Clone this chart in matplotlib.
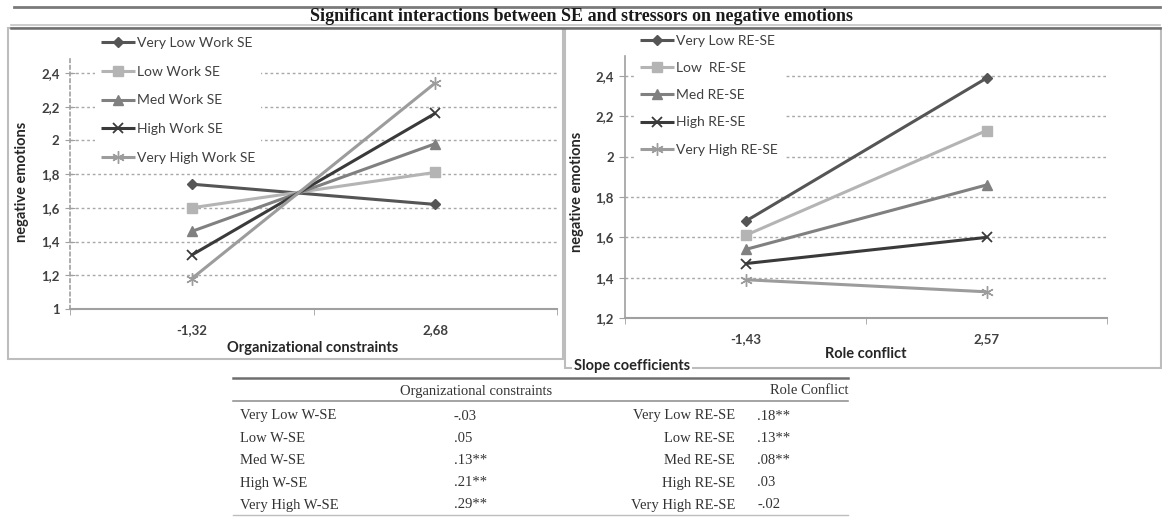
import numpy as np
import matplotlib
matplotlib.use("Agg")
import matplotlib.pyplot as plt
from matplotlib.lines import Line2D
from matplotlib.patches import Rectangle

# ---------------- data ----------------
title_text = "Significant interactions between SE and stressors on negative emotions"

org_x_labels = ["-1,32", "2,68"]
work_labels = ["Very Low Work SE", "Low Work SE", "Med Work SE", "High Work SE", "Very High Work SE"]
org_very_low = [1.74, 1.62]
org_low = [1.60, 1.81]
org_med = [1.46, 1.98]
org_high = [1.32, 2.16]
org_very_high = [1.18, 2.34]

role_x_labels = ["-1,43", "2,57"]
re_labels = ["Very Low RE-SE", "Low  RE-SE", "Med RE-SE", "High RE-SE", "Very High RE-SE"]
role_very_low = [1.68, 2.39]
role_low = [1.61, 2.13]
role_med = [1.54, 1.86]
role_high = [1.47, 1.60]
role_very_high = [1.39, 1.33]

left_yticks = [1.0, 1.2, 1.4, 1.6, 1.8, 2.0, 2.2, 2.4]
right_yticks = [1.2, 1.4, 1.6, 1.8, 2.0, 2.2, 2.4]

table_title = "Slope coefficients"
table_header_org = "Organizational constraints"
table_header_role = "Role Conflict"
slope_rows_work = ["Very Low W-SE", "Low W-SE", "Med W-SE", "High W-SE", "Very High W-SE"]
slope_org = ["-.03", ".05", ".13**", ".21**", ".29**"]
slope_rows_re = ["Very Low RE-SE", "Low RE-SE", "Med RE-SE", "High RE-SE", "Very High RE-SE"]
slope_role = [".18**", ".13**", ".08**", ".03", "-.02"]

# ---------------- styles ----------------
colors = ["#555555", "#b4b4b4", "#808080", "#3a3a3a", "#9c9c9c"]
markers = ["D", "s", "^", "x", (6, 2, 0)]
msizes = [5, 7, 7, 7, 9]
SANS = ["Lato", "DejaVu Sans"]
SERIF = ["Liberation Serif", "DejaVu Serif"]
TXT = "#404040"
GRID = "#a8a8a8"
AXC = "#a0a0a0"

W, H = 1162, 517
fig = plt.figure(figsize=(W / 100, H / 100), dpi=100)


def fx(px):
    return px / W


def fy(py):
    return 1 - py / H


def fmt(v):
    s = f"{v:.1f}"
    if s.endswith(".0"):
        s = s[:-2]
    return s.replace(".", ",")


def make_axes(rect, ylim, yticks, xlabels, dotted_yaxis, ytick_dir, ytick_len):
    ax = fig.add_axes(rect)
    ax.set_xlim(0, 2)
    ax.set_ylim(*ylim)
    for s in ["top", "right"]:
        ax.spines[s].set_visible(False)
    ax.spines["bottom"].set_color(AXC)
    ax.spines["bottom"].set_linewidth(1.5)
    ax.spines["left"].set_color(AXC)
    ax.spines["left"].set_linewidth(1.2)
    if dotted_yaxis:
        ax.spines["left"].set_linestyle((0, (2, 2)))
    ax.set_yticks(yticks)
    ax.set_yticklabels([fmt(v) for v in yticks], fontweight="bold", family=SANS,
                       fontsize=9.5, color=TXT)
    ax.tick_params(axis="y", direction=ytick_dir, length=ytick_len, color=AXC, pad=4)
    ax.set_xticks(np.arange(len(xlabels)) + 0.5)
    ax.set_xticklabels(xlabels, fontweight="bold", family=SANS, fontsize=9.5, color=TXT)
    ax.set_xticks(np.arange(len(xlabels) + 1), minor=True)
    ax.tick_params(axis="x", which="major", length=0, pad=10.5)
    ax.tick_params(axis="x", which="minor", length=4, direction="out", color=AXC)
    ax.yaxis.grid(True, linestyle=(0, (2, 2)), color=GRID, linewidth=1)
    ax.set_axisbelow(True)
    return ax


ax1 = make_axes([fx(70), fy(309), fx(557 - 70), (309 - 56) / H], (1, 2.5), left_yticks,
                org_x_labels, True, "inout", 7)
ax2 = make_axes([fx(625), fy(318), fx(1107 - 625), (318 - 56) / H], (1.2, 2.5), right_yticks,
                role_x_labels, False, "out", 4)

xpos = np.arange(2) + 0.5
for ax, series, labels in [
    (ax1, [org_very_low, org_low, org_med, org_high, org_very_high], work_labels),
    (ax2, [role_very_low, role_low, role_med, role_high, role_very_high], re_labels),
]:
    for vals, lab, c, m, ms in zip(series, labels, colors, markers, msizes):
        ax.plot(xpos, vals, color=c, lw=2.2, marker=m, markersize=ms,
                markeredgewidth=1.0 if isinstance(m, tuple) else (1.3 if m == "x" else 1),
                label=lab, solid_capstyle="butt")

leg_kw = dict(loc="upper left", bbox_transform=fig.transFigure, frameon=True,
              facecolor="white", edgecolor="none", framealpha=1, fancybox=False,
              handlelength=2.5, handletextpad=0.15, borderpad=0.4, borderaxespad=0,
              prop={"family": SANS, "size": 10})
leg1 = ax1.legend(bbox_to_anchor=(fx(95), fy(31.5)), labelspacing=1.2, **leg_kw)
leg2 = ax2.legend(bbox_to_anchor=(fx(634), fy(29.5)), labelspacing=1.09, **leg_kw)
for leg in (leg1, leg2):
    for t in leg.get_texts():
        t.set_color(TXT)

# axis labels
fig.text(fx(22), fy(182), "negative emotions", rotation=90, ha="center", va="center",
         family=SANS, fontweight="bold", fontsize=10.5, color="#262626")
fig.text(fx(577), fy(192), "negative emotions", rotation=90, ha="center", va="center",
         family=SANS, fontweight="bold", fontsize=10.5, color="#262626")
fig.text(fx(313), fy(348), "Organizational constraints", ha="center", va="center",
         family=SANS, fontweight="bold", fontsize=10.5, color="#262626")
fig.text(fx(866), fy(354), "Role conflict", ha="center", va="center",
         family=SANS, fontweight="bold", fontsize=10.5, color="#262626")

# panel frames
fig.add_artist(Rectangle((fx(8), fy(359)), fx(563 - 8), (359 - 28) / H, fill=False,
                         edgecolor="#bdbdbd", lw=1.5, transform=fig.transFigure))
fig.add_artist(Rectangle((fx(565), fy(368)), fx(1161 - 565), (368 - 28) / H, fill=False,
                         edgecolor="#bdbdbd", lw=1.5, transform=fig.transFigure))

# title and rules
fig.add_artist(Line2D([fx(14), fx(1160)], [fy(7), fy(7)], color="#7a7a7a", lw=2,
                      transform=fig.transFigure))
fig.add_artist(Line2D([fx(11), fx(1160)], [fy(25), fy(25)], color="#c4c4c4", lw=1.2,
                      transform=fig.transFigure))
fig.add_artist(Line2D([fx(11), fx(1160)], [fy(28), fy(28)], color="#6e6e6e", lw=1.8,
                      transform=fig.transFigure))
fig.text(fx(581), fy(16.5), title_text, ha="center", va="center", family=SERIF,
         fontweight="bold", fontsize=13, color="#1a1a1a")

# table
fig.text(fx(632), fy(366), table_title, ha="center", va="center", family=SANS,
         fontweight="bold", fontsize=10.5, color="#262626",
         bbox=dict(facecolor="white", edgecolor="none", pad=1))
fig.add_artist(Line2D([fx(233), fx(848)], [fy(378), fy(378)], color="#6e6e6e", lw=1.8,
                      transform=fig.transFigure))
fig.add_artist(Line2D([fx(233), fx(848)], [fy(401), fy(401)], color="#8a8a8a", lw=1.1,
                      transform=fig.transFigure))
fig.add_artist(Line2D([fx(233), fx(848)], [fy(515), fy(515)], color="#bdbdbd", lw=1.0,
                      transform=fig.transFigure))
tkw = dict(va="center", family=SERIF, fontsize=10.5, color="#333333")
fig.text(fx(476), fy(391), table_header_org, ha="center", **tkw)
fig.text(fx(809), fy(391), table_header_role, ha="center", **tkw)
row_y = [416, 438, 460.5, 483, 505]
for y, a, b, c, d in zip(row_y, slope_rows_work, slope_org, slope_rows_re, slope_role):
    fig.text(fx(240), fy(y), a, ha="left", **tkw)
    fig.text(fx(454), fy(y), b, ha="left", **tkw)
    fig.text(fx(735), fy(y), c, ha="right", **tkw)
    fig.text(fx(757), fy(y), d, ha="left", **tkw)

fig.savefig("out.png", dpi=100, facecolor="white")
